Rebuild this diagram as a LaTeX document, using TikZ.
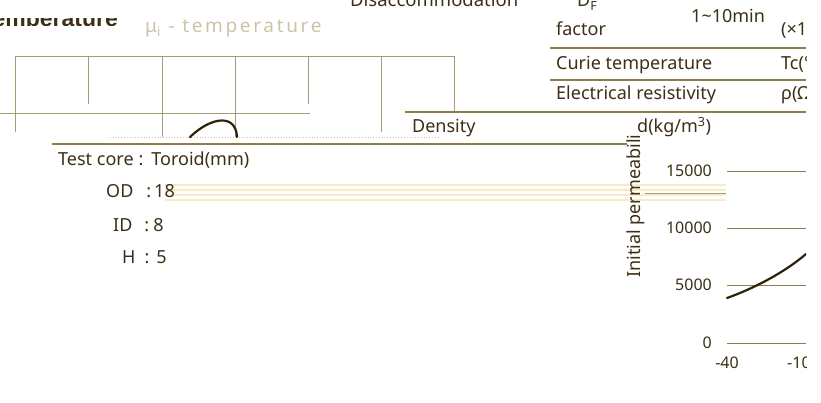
\documentclass[tikz,border=0pt]{standalone}
\usepackage{fontspec}
\setmainfont{Noto Sans}
\newfontfamily\headfont{Liberation Sans}
\definecolor{ink}{HTML}{3B3015}
\definecolor{rulecol}{HTML}{8E7E4A}
\definecolor{gridcol}{HTML}{A49C78}
\definecolor{palecol}{HTML}{F7ECC6}
\definecolor{ghostcol}{HTML}{CBC4A8}
\definecolor{curvecol}{HTML}{2B2208}

\begin{document}
\begin{tikzpicture}[x=1pt,y=-1pt,
    txt/.style={inner sep=0pt,text=ink,font=\fontsize{18}{21}\selectfont},
    ticklabel/.style={txt,font=\fontsize{16}{19}\selectfont},
    gridline/.style={draw=gridcol,line width=0.9pt},
    tableline/.style={draw=rulecol,line width=1.4pt},
    paleline/.style={draw=palecol,line width=1.2pt},
    plotline/.style={draw=curvecol,line width=2.2pt,line cap=round}]
  \useasboundingbox (0,0) rectangle (821,403);
  \begin{scope}
    \clip (0,0) rectangle (806,403);
    \begin{scope}
      \clip (0,19) rectangle (130,26);
      \node[txt,anchor=base east,font=\headfont\bfseries\fontsize{23}{26}\selectfont] (ttlTemp) at (118,27) {Temperature};
    \end{scope}
    \node[txt,anchor=base west,text=ghostcol,font=\fontsize{19}{22}\selectfont\addfontfeature{LetterSpace=14}] (ttlMu) at (145,33) {μ\textsubscript{i} - temperature};
    \draw[gridline] (15,56) -- (454,56);
    \draw[gridline] (0,113) -- (310,113);
    \draw[gridline] (15,56) -- (15,132);
    \draw[gridline] (88,56) -- (88,104);
    \draw[gridline] (162,56) -- (162,137);
    \draw[gridline] (235,56) -- (235,137);
    \draw[gridline] (308,56) -- (308,104);
    \draw[gridline] (381,56) -- (381,132);
    \draw[gridline] (454,56) -- (454,111);
    \draw[ghostcol,dotted,line width=0.8pt] (110,137) -- (440,137);
    \draw[plotline] (190,137) .. controls (212,116) and (236,114) .. (237,137);
    \draw[tableline] (52,144) -- (627,144);
    \draw[tableline] (550,48) -- (806,48);
    \draw[tableline] (550,80) -- (806,80);
    \draw[tableline] (405,112) -- (806,112);
    \foreach \y in {185,190,195,200} {
      \draw[paleline] (165,\y) -- (726,\y);
    }
    \draw[gridcol,line width=1pt] (645,194) -- (726,194);
    \node[txt,anchor=base west,font=\fontsize{18.5}{22}\selectfont] (lblDisacc) at (350,7) {Disaccommodation};
    \node[txt,anchor=base west] (lblDF) at (577,7) {D\textsubscript{F}};
    \node[txt,anchor=base west] (lblTime) at (691,23) {1\textasciitilde10min};
    \node[txt,anchor=base west] (lblFactor) at (556,36) {factor};
    \node[txt,anchor=base west] (unitFactor) at (781,36) {(×10};
    \node[txt,anchor=base west] (lblCurie) at (556,70) {Curie temperature};
    \node[txt,anchor=base west] (unitCurie) at (781,70) {Tc(℃)};
    \node[txt,anchor=base west] (lblResist) at (556,100) {Electrical resistivity};
    \node[txt,anchor=base west] (unitResist) at (781,100) {ρ(Ω·m)};
    \node[txt,anchor=base west] (lblDensity) at (412,133) {Density};
    \node[txt,anchor=base west] (unitDensity) at (637,133) {d(kg/m\textsuperscript{3})};
    \node[txt,anchor=base west] (coreTitle) at (58,166) {Test core\hspace{5pt}:\hspace{8pt}Toroid(mm)};
    \node[txt,anchor=base west] (coreOD) at (106,198) {OD\hspace{13pt}:\hspace{3pt}18};
    \node[txt,anchor=base west] (coreID) at (113,232) {ID\hspace{12pt}:\hspace{4pt}8};
    \node[txt,anchor=base west] (coreH) at (122,263) {H\hspace{9pt}:\hspace{7pt}5};
    \node[txt,rotate=90,anchor=base west] (axisMu) at (640,278) {Initial permeabili};
    \foreach \v/\y in {15000/171,10000/228,5000/285,0/343} {
      \draw[gridline,draw=rulecol] (727,\y) -- (806,\y);
      \node[ticklabel,anchor=east] (tick\v) at (712,\y) {\v};
    }
    \node[ticklabel,anchor=base] (tickm40) at (727,368) {-40};
    \node[ticklabel,anchor=base west] (tickm10) at (787,368) {-10};
    \draw[plotline] (727,298) .. controls (755,288) and (785,272) .. (806,254);
  \end{scope}
\end{tikzpicture}
\end{document}
